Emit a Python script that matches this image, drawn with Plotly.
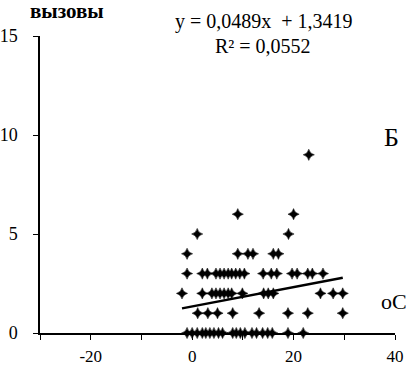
import numpy as np
import plotly.graph_objects as go

# temperatures (oC) of days, grouped by the number of calls observed
temps_0 = [-1, 0, 1, 2, 2.7, 3.5, 4.3, 5.2, 6, 8, 8.7, 9.5, 10.4, 11.8, 12.7, 13.9, 14.9, 15.8, 18.9, 21.9]
temps_1 = [1.1, 3.1, 5.0, 8.0, 13.2, 18.9, 22.8, 29.7]
temps_2 = [-2, 2, 3.9, 4.7, 5.5, 6.3, 7.1, 7.8, 9.9, 14.1, 15, 16, 25.3, 27.8, 29.7]
temps_3 = [-1, 2, 3, 4.7, 5.5, 6.3, 7.1, 7.8, 8.6, 9.4, 10.3, 14, 15.6, 16.7, 19.7, 20.7, 22.8, 23.7, 25.8]
temps_4 = [-1, 9, 11, 12, 16, 17]
temps_5 = [1, 19]
temps_6 = [9, 20]
temps_9 = [23]

groups = [(0, temps_0), (1, temps_1), (2, temps_2), (3, temps_3),
          (4, temps_4), (5, temps_5), (6, temps_6), (9, temps_9)]
temperature = [t for c, ts in groups for t in ts]
calls = [c for c, ts in groups for t in ts]

# linear trend as printed on the chart
slope = 0.0489
intercept = 1.3419
r_squared = 0.0552

x_ticks = [-30, -20, -10, 0, 10, 20, 30, 40]
x_tick_text = ["", "-20", "", "0", "", "20", "", "40"]
y_ticks = [0, 5, 10, 15]

serif = "Liberation Serif"

fig = go.Figure()
fig.add_trace(go.Scatter(
    x=temperature, y=calls, mode="markers",
    marker=dict(symbol="star-diamond", size=8, color="black",
                line=dict(width=0.5, color="black")),
    cliponaxis=False, showlegend=False))

tx = np.array([min(temperature), max(temperature)])
fig.add_trace(go.Scatter(
    x=tx, y=slope * tx + intercept, mode="lines",
    line=dict(color="black", width=2.5), showlegend=False))

fig.update_layout(
    width=406, height=368,
    margin=dict(l=40, r=11, t=36, b=35),
    paper_bgcolor="white", plot_bgcolor="white",
    font=dict(family=serif, size=18, color="black"),
    xaxis=dict(range=[-30, 40], tickvals=x_ticks, ticktext=x_tick_text,
               showgrid=False, zeroline=False, showline=True, automargin=False,
               linecolor="black", linewidth=1.5, ticks="outside",
               ticklen=5, tickcolor="black", ticklabelstandoff=2,
               tickfont=dict(family=serif, size=17)),
    yaxis=dict(range=[0, 15], tickvals=y_ticks, automargin=False,
               showgrid=False, zeroline=False, showline=True,
               linecolor="black", linewidth=1.5, ticks="outside",
               ticklen=5, tickcolor="black", ticklabelstandoff=12,
               tickfont=dict(family=serif, size=18)),
    annotations=[
        dict(text="y = 0,0489x  + 1,3419", xref="paper", yref="paper",
             x=0.63, y=1.094, showarrow=False, font=dict(family=serif, size=20)),
        dict(text="R² = 0,0552", xref="paper", yref="paper",
             x=0.628, y=1.01, showarrow=False, font=dict(family=serif, size=20)),
        dict(text="<b>вызовы</b>", xref="paper", yref="paper", xanchor="left",
             yanchor="middle", x=-0.034, y=1.085, showarrow=False,
             font=dict(family=serif, size=21)),
        dict(text="Б", xref="paper", yref="paper", xanchor="right",
             x=1.016, y=0.657, showarrow=False, font=dict(family=serif, size=26)),
        dict(text="oC", xref="paper", yref="paper", xanchor="left",
             x=0.955, y=0.057, showarrow=False, font=dict(family=serif, size=22)),
    ],
)

fig.write_html("out.html", config={"displayModeBar": False},
               post_script="document.body.style.margin='0';document.body.style.overflow='hidden';")
